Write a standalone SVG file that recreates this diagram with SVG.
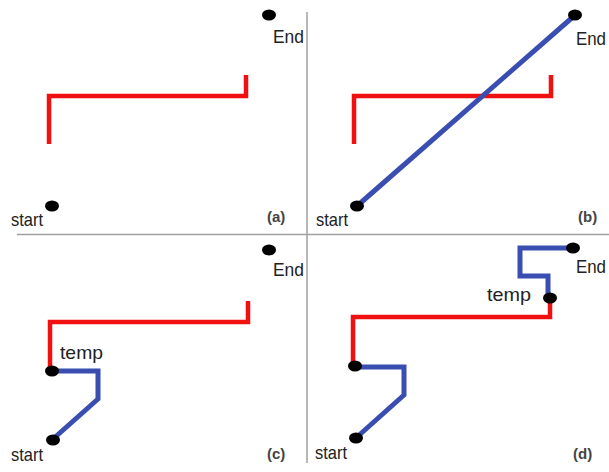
<svg xmlns="http://www.w3.org/2000/svg" width="609" height="472" viewBox="0 0 609 472">
<style>
.red{fill:none;stroke:#f01010;stroke-width:4.5;stroke-linejoin:miter;stroke-linecap:butt}
.blue{fill:none;stroke:#3a4db0;stroke-width:5;stroke-linejoin:miter}
.axis{stroke:#a0a0a0;stroke-width:1.5}
.lbl{font-family:"Liberation Sans",Arial,sans-serif;font-size:19px;fill:#222}
.tag{font-family:"Liberation Sans",Arial,sans-serif;font-size:15px;font-weight:bold;fill:#444}
.dot{fill:#000}
</style>
<g id="axes">
<line class="axis" x1="17" y1="234.5" x2="609" y2="234.5"/>
<line class="axis" x1="307" y1="12" x2="307" y2="463"/>
</g>
<g id="connectors">
<polyline class="red" points="49,144 49,96 246,96 246,75"/>
<polyline class="red" points="354,144 354,96 551,96 551,75"/>
<line class="blue" x1="357" y1="206" x2="574" y2="16"/>
<polyline class="red" points="50,371 50,322 248,322 248,301"/>
<polyline class="blue" points="52,371 98,371 98,399 53,439"/>
<polyline class="blue" points="573,248 520,248 520,276 548,276 548,298"/>
<polyline class="red" points="550,298 550,317 353,317 353,367"/>
<polyline class="blue" points="355,367 404,367 404,395 357,437"/>
</g>
<g id="panel-a">
<ellipse class="dot" cx="269" cy="15" rx="7" ry="5.5"/>
<text class="lbl" x="273" y="43" textLength="31" lengthAdjust="spacingAndGlyphs">End</text>
<ellipse class="dot" cx="52" cy="206" rx="7" ry="5.5"/>
<text class="lbl" x="11" y="226" textLength="32" lengthAdjust="spacingAndGlyphs">start</text>
<text class="tag" x="267" y="222">(a)</text>
</g>
<g id="panel-b">
<ellipse class="dot" cx="575" cy="15" rx="7" ry="5.5"/>
<text class="lbl" x="576" y="45" textLength="30" lengthAdjust="spacingAndGlyphs">End</text>
<ellipse class="dot" cx="357" cy="206" rx="7" ry="5.5"/>
<text class="lbl" x="316" y="226" textLength="32" lengthAdjust="spacingAndGlyphs">start</text>
<text class="tag" x="578" y="222">(b)</text>
</g>
<g id="panel-c">
<ellipse class="dot" cx="269" cy="250" rx="7" ry="5.5"/>
<text class="lbl" x="273" y="276" textLength="31" lengthAdjust="spacingAndGlyphs">End</text>
<ellipse class="dot" cx="52" cy="371" rx="7" ry="5.5"/>
<text class="lbl" x="60" y="359" textLength="43" lengthAdjust="spacingAndGlyphs">temp</text>
<ellipse class="dot" cx="53" cy="440" rx="7" ry="5.5"/>
<text class="lbl" x="11" y="461" textLength="32" lengthAdjust="spacingAndGlyphs">start</text>
<text class="tag" x="267" y="459">(c)</text>
</g>
<g id="panel-d">
<ellipse class="dot" cx="573" cy="248" rx="7" ry="5.5"/>
<text class="lbl" x="576" y="273" textLength="30" lengthAdjust="spacingAndGlyphs">End</text>
<ellipse class="dot" cx="550" cy="298" rx="7" ry="5.5"/>
<text class="lbl" x="487" y="301" textLength="44" lengthAdjust="spacingAndGlyphs">temp</text>
<ellipse class="dot" cx="355" cy="366" rx="7" ry="5.5"/>
<ellipse class="dot" cx="356" cy="438" rx="7" ry="5.5"/>
<text class="lbl" x="315" y="459" textLength="32" lengthAdjust="spacingAndGlyphs">start</text>
<text class="tag" x="573" y="459">(d)</text>
</g>
</svg>
